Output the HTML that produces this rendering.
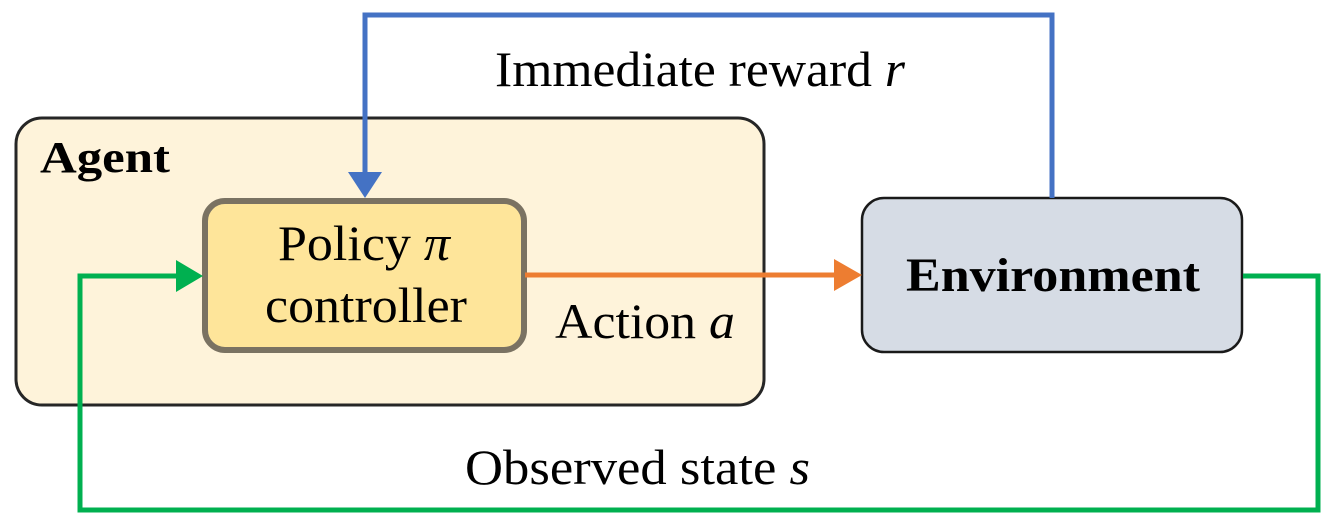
<!DOCTYPE html>
<html><head><meta charset="utf-8"><style>
html,body{margin:0;padding:0;background:#fff;}
svg{display:block;}
text{font-family:"Liberation Serif",serif;fill:#000;}
</style></head><body>
<svg width="1329" height="528" viewBox="0 0 1329 528" xmlns="http://www.w3.org/2000/svg">
<rect x="16" y="118" width="748" height="287" rx="26" fill="#fef3da" stroke="#262626" stroke-width="3"/>
<text x="40" y="172" font-size="44" font-weight="bold" textLength="130" lengthAdjust="spacingAndGlyphs">Agent</text>
<rect x="205" y="201" width="319" height="149" rx="20" fill="#fee59a" stroke="#7a7262" stroke-width="6"/>
<text x="278" y="260" font-size="50" textLength="172" lengthAdjust="spacingAndGlyphs">Policy <tspan font-style="italic">π</tspan></text>
<text x="265" y="322" font-size="50" textLength="202" lengthAdjust="spacingAndGlyphs">controller</text>
<rect x="862" y="198" width="380" height="154" rx="22" fill="#d6dce5" stroke="#1a1a1a" stroke-width="2.5"/>
<text x="906" y="291" font-size="48" font-weight="bold" textLength="294" lengthAdjust="spacingAndGlyphs">Environment</text>
<!-- blue -->
<polyline points="1052,198 1052,15 365,15 365,175" fill="none" stroke="#4472c4" stroke-width="5"/>
<polygon points="348,172 382,172 365,198" fill="#4472c4"/>
<text x="495" y="86" font-size="50" textLength="410" lengthAdjust="spacingAndGlyphs">Immediate reward <tspan font-style="italic">r</tspan></text>
<!-- orange -->
<line x1="525" y1="275" x2="838" y2="275" stroke="#ed7d31" stroke-width="5"/>
<polygon points="834,259 834,291 862,275" fill="#ed7d31"/>
<text x="555" y="338" font-size="50" textLength="180" lengthAdjust="spacingAndGlyphs">Action <tspan font-style="italic">a</tspan></text>
<!-- green -->
<polyline points="1243,276 1318,276 1318,510 80,510 80,276 180,276" fill="none" stroke="#00b050" stroke-width="5"/>
<polygon points="176,260 176,292 203,276" fill="#00b050"/>
<text x="465" y="484" font-size="50" textLength="345" lengthAdjust="spacingAndGlyphs">Observed state <tspan font-style="italic">s</tspan></text>
</svg>
</body></html>
